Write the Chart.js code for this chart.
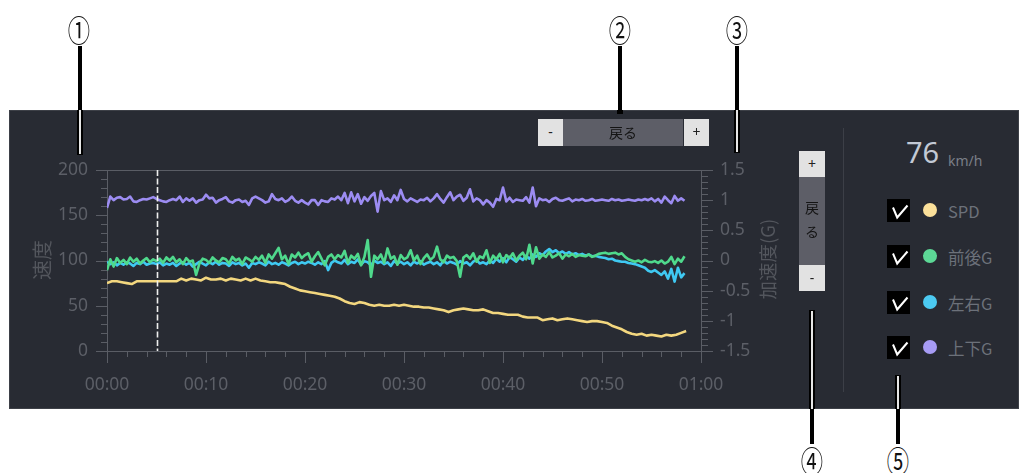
<!DOCTYPE html>
<html><head><meta charset="utf-8">
<script src="https://cdn.jsdelivr.net/npm/chart.js@4"></script>
<style>
html,body{margin:0;padding:0;background:#fff;}
#page{position:relative;width:1029px;height:473px;overflow:hidden;background:#fff;font-family:'Noto Sans','Noto Sans CJK JP',sans-serif;}
#panel{position:absolute;left:9px;top:110px;width:1010px;height:299px;background:#282b33;box-sizing:border-box;border:1px solid #3d4047;}
#cv{position:absolute;left:10px;top:140px;width:780px;height:268px;}
.num{position:absolute;font-family:'Noto Sans CJK JP',sans-serif;font-size:31px;line-height:31px;color:#111;transform:translate(-50%,-50%) scaleX(0.72);}
.cl{position:absolute;background:#000;}
.cw{position:absolute;background:#e6e6e6;}
.lt{position:absolute;background:#e2e2e2;color:#222;font-size:14px;text-align:center;font-family:'Noto Sans',sans-serif;}
.dk{position:absolute;background:#5d5e67;color:#141414;font-family:'Noto Sans CJK JP',sans-serif;font-size:14px;text-align:center;}
.atitle{position:absolute;color:#53565d;font-family:'Noto Sans CJK JP',sans-serif;white-space:nowrap;transform:translate(-50%,-50%) rotate(-90deg);}
.row{position:absolute;left:887px;height:23px;}
.cb{position:absolute;left:0;top:0;width:23px;height:23px;background:#000;}
.dot{position:absolute;left:36px;top:4px;width:14px;height:14px;border-radius:50%;}
.lab{position:absolute;left:61px;top:0px;font-size:16.5px;color:#6c717a;font-family:'Noto Sans CJK JP',sans-serif;white-space:nowrap;}
</style></head>
<body><div id="page">
<div id="panel"></div>
<canvas id="cv" width="780" height="268"></canvas>

<div class="atitle" style="left:41px;top:260px;font-size:20px;">速度</div>
<div class="atitle" style="left:767px;top:259px;font-size:18.5px;">加速度(G)</div>

<!-- horizontal zoom bar (2) -->
<div class="lt" style="left:538px;top:119px;width:25px;height:27px;line-height:26px;">-</div>
<div class="dk" style="left:563px;top:119px;width:120px;height:27px;line-height:27px;">戻る</div>
<div class="lt" style="left:684px;top:119px;width:25px;height:27px;line-height:26px;">+</div>

<!-- vertical zoom bar (4) -->
<div class="lt" style="left:799px;top:151px;width:26px;height:26px;line-height:25px;">+</div>
<div class="dk" style="left:799px;top:177px;width:26px;height:88px;"><div style="position:absolute;left:0;width:26px;top:21px;line-height:18px;">戻</div><div style="position:absolute;left:0;width:26px;top:45px;line-height:18px;">る</div></div>
<div class="lt" style="left:799px;top:265px;width:26px;height:26px;line-height:25px;">-</div>

<div style="position:absolute;left:843px;top:128px;width:1px;height:264px;background:#3c3f47;"></div>

<div id="spdv" style="position:absolute;left:906px;top:134px;font-size:29px;line-height:36px;color:#c2c9d5;font-family:'Noto Sans',sans-serif;"></div>
<div style="position:absolute;left:948px;top:151px;font-size:14px;line-height:20px;color:#7a7f88;font-family:'Noto Sans',sans-serif;">km/h</div>

<div id="legend"></div>

<!-- callouts -->
<div class="cl" style="left:78px;top:46px;width:4px;height:64px;"></div>
<div class="cl" style="left:77px;top:110px;width:6px;height:45px;"></div><div class="cw" style="left:79px;top:110px;width:2px;height:44px;"></div>
<div class="cl" style="left:618px;top:46px;width:4px;height:64px;"></div>
<div class="cl" style="left:617px;top:110px;width:6px;height:4px;"></div>
<div class="cl" style="left:735px;top:46px;width:4px;height:64px;"></div>
<div class="cl" style="left:734px;top:110px;width:6px;height:43px;"></div><div class="cw" style="left:736px;top:110px;width:2px;height:42px;"></div>
<div class="cl" style="left:809px;top:310px;width:6px;height:99px;"></div><div class="cw" style="left:811px;top:311px;width:2px;height:98px;"></div>
<div class="cl" style="left:810px;top:409px;width:4px;height:35px;"></div>
<div class="cl" style="left:895px;top:375px;width:6px;height:34px;"></div><div class="cw" style="left:897px;top:376px;width:2px;height:33px;"></div>
<div class="cl" style="left:896px;top:409px;width:4px;height:35px;"></div>

<div class="num" style="left:79px;top:28px;">①</div>
<div class="num" style="left:620px;top:28px;">②</div>
<div class="num" style="left:737px;top:28px;">③</div>
<div class="num" style="left:812px;top:459px;">④</div>
<div class="num" style="left:898px;top:459px;">⑤</div>
</div>
<script>
// ---- data ----
const SPD_STEP_MIN = 0.5;      // speed sampled every 30 s
const G_STEP_MIN = 1/3;        // G sensors sampled every 20 s
const spd = [
75,77,77,76,75,74,77,77,77,77,
77,77,77,77,77,80,78,80,79,78,
81,79,79,80,78,80,79,78,80,78,
80,78,77,76,76,75,74,71,69,67,
66,65,64,63,62,61,60,58,55,53,
52,54,53,51,50,51,50,50,51,50,
51,50,49,49,48,48,47,46,45,43,
45,46,47,46,45,45,46,44,42,42,
41,40,40,40,38,37,37,37,34,35,
36,34,35,36,35,34,33,32,33,33,
32,31,28,26,24,21,19,18,19,17,
18,17,16,18,17,18,20,22];
const gFB = [ // 前後G
-0.16,0.02,-0.10,0.04,-0.04,0.01,-0.06,0.05,-0.02,0.03,-0.05,0.00,0.04,-0.03,0.02,
-0.01,0.03,-0.04,0.05,0.00,0.06,-0.03,0.02,-0.06,0.04,-0.02,0.00,-0.24,-0.05,0.03,
0.01,-0.04,0.05,0.00,-0.03,0.04,0.02,-0.05,0.06,0.00,0.03,-0.06,0.05,0.02,-0.02,
0.06,0.01,0.08,-0.04,0.10,0.03,0.12,0.21,0.02,0.08,-0.06,0.10,0.05,0.13,0.04,
0.09,0.12,-0.02,0.07,0.14,0.03,-0.08,0.06,0.10,0.02,0.09,0.05,0.16,-0.04,0.08,
0.03,0.11,-0.08,0.06,0.34,-0.27,0.08,0.02,0.10,-0.04,0.20,0.03,0.07,-0.07,0.09,
0.02,0.05,0.17,0.00,0.08,-0.06,0.04,0.10,0.01,0.06,0.23,0.02,-0.03,0.08,0.04,
0.06,-0.01,-0.27,0.05,0.09,0.03,0.12,-0.02,0.07,0.04,0.17,-0.04,0.08,0.02,0.11,
-0.03,0.09,0.04,0.12,0.00,0.08,0.13,0.02,0.26,-0.05,0.22,0.03,0.10,0.06,0.14,
0.05,0.08,0.12,0.03,0.10,0.07,0.11,0.06,0.09,0.08,0.07,0.10,0.06,0.08,0.11,
0.12,0.13,0.11,0.12,0.13,0.10,0.12,0.06,0.02,0.00,-0.02,0.00,-0.03,0.01,-0.02,
-0.03,-0.01,-0.04,0.00,-0.05,-0.02,0.06,-0.06,0.03,-0.02,0.07];
const gLR = [ // 左右G
-0.02,-0.06,-0.03,-0.08,-0.04,-0.07,-0.03,-0.05,-0.09,-0.04,-0.06,-0.02,-0.07,-0.05,-0.04,
-0.06,-0.03,-0.08,-0.05,-0.07,-0.04,-0.09,-0.05,-0.03,-0.07,-0.04,-0.10,-0.06,-0.02,-0.05,
-0.08,-0.03,-0.06,-0.02,-0.07,-0.04,-0.05,-0.09,-0.03,-0.06,-0.04,-0.08,-0.05,-0.12,-0.04,
-0.06,-0.03,-0.05,-0.08,-0.02,-0.06,-0.04,-0.07,-0.03,-0.05,-0.08,-0.04,-0.02,-0.06,-0.03,
-0.05,-0.02,-0.04,-0.07,-0.03,-0.06,-0.01,-0.16,-0.04,0.00,-0.03,-0.05,0.01,-0.06,-0.02,
-0.04,0.02,-0.07,-0.01,-0.03,-0.08,0.00,-0.04,-0.02,-0.06,-0.03,-0.09,-0.01,-0.05,-0.02,
-0.06,-0.03,-0.08,-0.02,-0.05,-0.01,-0.07,-0.04,-0.02,-0.06,-0.03,-0.08,0.00,-0.05,-0.02,
-0.04,-0.07,-0.01,-0.05,-0.03,-0.08,-0.02,0.01,-0.05,-0.03,-0.06,0.00,-0.04,0.03,-0.02,
0.04,-0.03,0.06,0.02,-0.02,0.05,0.01,0.08,0.03,0.10,0.06,0.12,0.09,0.15,0.19,
0.14,0.17,0.12,0.15,0.11,0.14,0.10,0.12,0.09,0.11,0.08,0.10,0.07,0.08,0.06,
0.05,0.04,0.02,0.03,0.00,-0.01,-0.02,-0.02,-0.04,-0.05,-0.06,-0.08,-0.10,-0.12,-0.17,
-0.19,-0.16,-0.20,-0.24,-0.18,-0.30,-0.14,-0.35,-0.12,-0.28,-0.21];
const gUD = [ // 上下G
0.87,1.06,1.00,1.04,1.05,1.01,1.02,1.06,0.98,0.97,1.00,1.02,1.01,1.03,1.05,
1.02,1.00,0.98,0.97,1.00,1.02,1.00,1.06,0.97,1.03,0.99,1.03,0.96,1.00,1.01,
1.09,1.03,1.04,0.96,1.00,1.02,1.05,0.98,0.96,1.00,1.01,0.97,0.99,0.92,1.03,
1.06,1.03,1.00,0.96,0.98,1.10,1.02,1.00,1.03,0.97,1.00,1.06,0.99,0.96,1.00,
0.96,0.93,1.00,1.00,0.92,1.00,0.98,0.97,1.03,1.01,1.06,1.00,1.12,0.95,1.13,
0.98,1.10,0.94,1.05,0.99,1.07,1.12,0.81,1.15,1.00,1.03,0.97,1.08,1.00,1.17,
1.02,0.98,1.03,1.00,0.97,1.01,1.00,1.04,0.98,1.03,1.10,1.02,0.96,1.05,1.13,
1.00,1.06,1.09,0.99,1.04,1.18,0.98,1.03,1.00,0.93,1.00,0.96,0.89,1.02,1.00,
1.21,0.98,1.04,0.97,1.01,1.00,0.99,1.05,0.96,1.21,0.90,1.03,1.00,1.01,0.97,
1.02,1.04,1.00,0.99,1.01,1.03,0.98,1.01,1.00,1.02,0.99,1.00,1.02,0.99,1.00,
1.01,1.00,0.99,1.02,1.00,1.01,0.99,1.00,1.01,1.00,0.99,1.01,1.00,1.02,1.00,
1.03,0.98,1.02,0.96,1.06,1.00,0.95,1.07,0.99,1.03,0.99];
const xTicks = [0,10,20,30,40,50,60];           // minutes
const speedTicks = [0,50,100,150,200];
const gTicks = [-1.5,-1,-0.5,0,0.5,1,1.5];
const cursorMin = 5;
const currentSpeed = 76;
const legendLabels = ['SPD','前後G','左右G','上下G'];
const lineColors = ['#f3d77f','#4fd98c','#3fc9f2','#9c8cf2'];
const dotColors  = ['#fbe09a','#5cd896','#4ccaf2','#a79cf5'];

// ---- legend / readout ----
document.getElementById('spdv').textContent = currentSpeed;
const rowTops = [199,245,291,336];
const lg = document.getElementById('legend');
legendLabels.forEach((name,i)=>{
  const r = document.createElement('div'); r.className='row'; r.style.top = rowTops[i]+'px';
  r.innerHTML = '<div class="cb"><svg width="23" height="23"><path d="M6 8.5 L10.2 18.5 L20.5 6.5" fill="none" stroke="#fff" stroke-width="2" stroke-linejoin="miter" stroke-linecap="butt"/></svg></div>'+
    '<div class="dot" style="background:'+dotColors[i]+'"></div><div class="lab">'+name+'</div>';
  lg.appendChild(r);
});

// ---- chart ----
const AX = '#5a5d65', TXT = '#5c5f67';
const tickFont = {family:"'Noto Sans','Noto Sans CJK JP',sans-serif", size:17.5};
const pts = (arr, step) => arr.map((v,i)=>({x:i*step, y:v}));
const fmtTime = v => { const h = Math.floor(v/60), m = v%60; return String(h).padStart(2,'0')+':'+String(m).padStart(2,'0'); };

const decor = {
  id:'decor',
  beforeDatasetsDraw(chart){
    const a = chart.chartArea, c = chart.ctx;
    c.save(); c.strokeStyle = AX; c.lineWidth = 1;
    c.beginPath(); c.moveTo(a.left, a.top+0.5); c.lineTo(a.right, a.top+0.5); c.stroke();
    const sx = chart.scales.x, sy = chart.scales.y, sg = chart.scales.y1;
    c.beginPath();
    for (let m = 0; m <= 60; m += 2) {
      const px = Math.round(sx.getPixelForValue(m)) + 0.5, L = (m % 10 === 0) ? 12 : 6;
      c.moveTo(px, a.bottom); c.lineTo(px, a.bottom + L);
    }
    for (let k = 0; k <= 20; k++) {
      const v = k*10, py = Math.round(sy.getPixelForValue(v)) + 0.5, L = (v % 50 === 0) ? 11 : 6;
      c.moveTo(a.left - L, py); c.lineTo(a.left, py);
    }
    for (let k = -15; k <= 15; k++) {
      const py = Math.round(sg.getPixelForValue(k/10)) + 0.5, L = (k % 5 === 0) ? 12 : 7;
      c.moveTo(a.right, py); c.lineTo(a.right + L, py);
    }
    c.stroke(); c.restore();
  },
  afterDatasetsDraw(chart){
    const a = chart.chartArea, c = chart.ctx;
    const px = Math.round(chart.scales.x.getPixelForValue(cursorMin)) + 0.5;
    c.save(); c.strokeStyle = '#eeeeee'; c.lineWidth = 1.6; c.setLineDash([6,2.5]);
    c.beginPath(); c.moveTo(px, a.top); c.lineTo(px, a.bottom); c.stroke(); c.restore();
  }
};

new Chart(document.getElementById('cv'), {
  type:'line',
  data:{datasets:[
    {label:legendLabels[3], data:pts(gUD,G_STEP_MIN), yAxisID:'y1', borderColor:lineColors[3]},
    {label:legendLabels[1], data:pts(gFB,G_STEP_MIN), yAxisID:'y1', borderColor:lineColors[1]},
    {label:legendLabels[2], data:pts(gLR,G_STEP_MIN), yAxisID:'y1', borderColor:lineColors[2]},
    {label:legendLabels[0], data:pts(spd,SPD_STEP_MIN), yAxisID:'y', borderColor:lineColors[0]}
  ]},
  options:{
    responsive:false, animation:false,
    layout:{padding:{top:30,left:0,right:19,bottom:12}},
    plugins:{legend:{display:false}, tooltip:{enabled:false}},
    elements:{point:{radius:0}, line:{borderWidth:2.6, tension:0, borderJoinStyle:'round'}},
    scales:{
      x:{type:'linear', min:0, max:60,
         afterBuildTicks:s=>{s.ticks = xTicks.map(v=>({value:v}));},
         afterFit:s=>{s.height = 45;},
         ticks:{callback:v=>fmtTime(v), color:TXT, font:tickFont, padding:24, maxRotation:0, autoSkip:false},
         grid:{display:false, drawTicks:false}, border:{display:true, color:AX, width:1}},
      y:{type:'linear', position:'left', min:0, max:200,
         afterBuildTicks:s=>{s.ticks = speedTicks.map(v=>({value:v}));},
         afterFit:s=>{s.width = 97;},
         ticks:{callback:v=>String(v), color:TXT, font:tickFont, padding:19},
         grid:{display:false, drawTicks:false}, border:{display:true, color:AX, width:1}},
      y1:{type:'linear', position:'right', min:-1.5, max:1.5,
         afterBuildTicks:s=>{s.ticks = gTicks.map(v=>({value:v}));},
         afterFit:s=>{s.width = 70;},
         ticks:{callback:v=>String(v), color:TXT, font:tickFont, padding:19},
         grid:{display:false, drawTicks:false}, border:{display:true, color:AX, width:1}}
    }
  },
  plugins:[decor]
});
</script>
</body></html>
